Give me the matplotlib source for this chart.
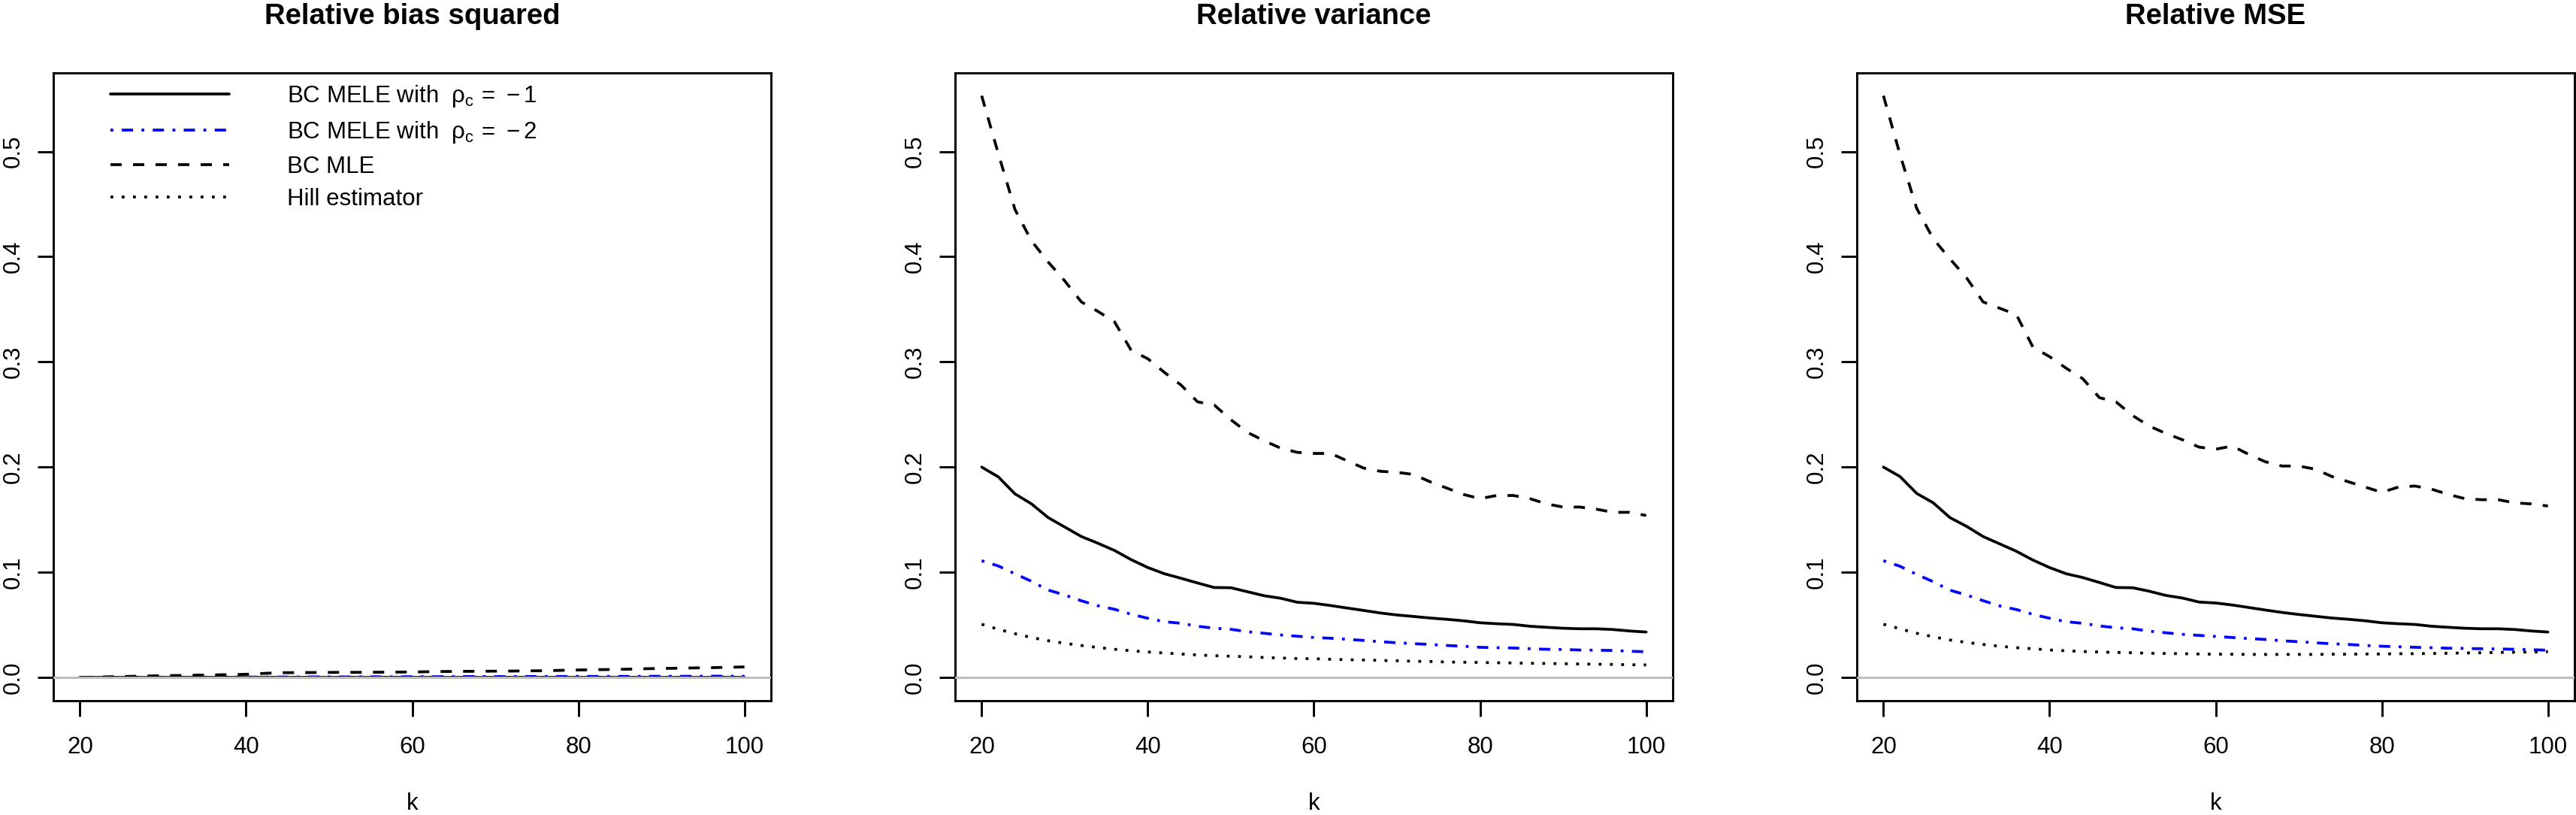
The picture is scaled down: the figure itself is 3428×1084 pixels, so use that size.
import matplotlib
matplotlib.use('Agg')
import matplotlib.pyplot as plt

plt.rcParams['font.family'] = ['Liberation Sans', 'DejaVu Sans']
plt.rcParams['mathtext.fontset'] = 'custom'
plt.rcParams['mathtext.rm'] = 'Liberation Sans'
plt.rcParams['mathtext.it'] = 'Liberation Sans:italic'
plt.rcParams['mathtext.bf'] = 'Liberation Sans:bold'

# ------------------------------------------------------------------------------
# Data
# ------------------------------------------------------------------------------
k = [20, 22, 24, 26, 28, 30, 32, 34, 36, 38, 40, 42, 44, 46, 48, 50, 52, 54, 56, 58, 60,
     62, 64, 66, 68, 70, 72, 74, 76, 78, 80, 82, 84, 86, 88, 90, 92, 94, 96, 98, 100]

titles = ['Relative bias squared', 'Relative variance', 'Relative MSE']
labels = [r'BC MELE with  $\mathrm{\rho_c\,=\,-1}$',
          r'BC MELE with  $\mathrm{\rho_c\,=\,-2}$',
          'BC MLE',
          'Hill estimator']

# Relative bias squared
bias_mele1 = [0.0000, 0.0000, 0.0000, 0.0000, 0.0000, 0.0000, 0.0000, 0.0000, 0.0000, 0.0000, 0.0000,
              0.0000, 0.0000, 0.0000, 0.0000, 0.0000, 0.0000, 0.0000, 0.0000, 0.0000, 0.0000,
              0.0000, 0.0000, 0.0000, 0.0000, 0.0000, 0.0000, 0.0000, 0.0000, 0.0000, 0.0000,
              0.0000, 0.0000, 0.0000, 0.0000, 0.0000, 0.0000, 0.0000, 0.0000, 0.0000, 0.0000]
bias_mele2 = [0.0000, 0.0000, 0.0001, 0.0001, 0.0001, 0.0002, 0.0002, 0.0002, 0.0003, 0.0003, 0.0003,
              0.0004, 0.0004, 0.0004, 0.0005, 0.0005, 0.0005, 0.0006, 0.0006, 0.0006, 0.0007,
              0.0007, 0.0007, 0.0008, 0.0008, 0.0008, 0.0008, 0.0009, 0.0009, 0.0009, 0.0010,
              0.0010, 0.0010, 0.0010, 0.0011, 0.0011, 0.0011, 0.0011, 0.0012, 0.0012, 0.0012]
bias_mle = [0.0000, 0.0003, 0.0007, 0.0010, 0.0014, 0.0017, 0.0019, 0.0022, 0.0024, 0.0027, 0.0030,
            0.0038, 0.0045, 0.0046, 0.0047, 0.0048, 0.0049, 0.0049, 0.0050, 0.0051, 0.0052,
            0.0055, 0.0057, 0.0058, 0.0059, 0.0060, 0.0061, 0.0063, 0.0064, 0.0068, 0.0071,
            0.0074, 0.0076, 0.0079, 0.0083, 0.0086, 0.0088, 0.0091, 0.0093, 0.0097, 0.0100]
bias_hill = [0.0000, 0.0000, 0.0000, 0.0000, 0.0000, 0.0000, 0.0000, 0.0000, 0.0000, 0.0000, 0.0000,
             0.0000, 0.0000, 0.0000, 0.0000, 0.0000, 0.0000, 0.0000, 0.0000, 0.0000, 0.0000,
             0.0000, 0.0000, 0.0000, 0.0000, 0.0000, 0.0000, 0.0000, 0.0000, 0.0000, 0.0000,
             0.0000, 0.0000, 0.0000, 0.0000, 0.0000, 0.0000, 0.0000, 0.0000, 0.0000, 0.0000]

# Relative variance
var_mele1 = [0.200, 0.1907, 0.1746, 0.165, 0.152, 0.143, 0.134, 0.1276, 0.1207, 0.112, 0.1045,
             0.0986, 0.0943, 0.0898, 0.0855, 0.0853, 0.0815, 0.0777, 0.0753, 0.0715, 0.0705,
             0.0684, 0.066, 0.0637, 0.0613, 0.0594, 0.058, 0.0565, 0.0553, 0.0539, 0.052,
             0.0511, 0.0504, 0.0487, 0.0477, 0.0468, 0.0463, 0.0463, 0.0456, 0.0442, 0.0432]
var_mele2 = [0.111, 0.106, 0.0986, 0.0914, 0.0831, 0.0784, 0.0729, 0.0682, 0.0648, 0.0601, 0.0563,
             0.053, 0.0515, 0.0487, 0.0468, 0.0458, 0.0435, 0.042, 0.0404, 0.0392, 0.038,
             0.0373, 0.0363, 0.0352, 0.034, 0.033, 0.0321, 0.0314, 0.0304, 0.0297, 0.0287,
             0.0283, 0.028, 0.0273, 0.0268, 0.0266, 0.0261, 0.0259, 0.0257, 0.0249, 0.0245]
var_mle = [0.553, 0.498, 0.445, 0.415, 0.395, 0.377, 0.357, 0.348, 0.338, 0.311, 0.303,
           0.290, 0.278, 0.262, 0.259, 0.245, 0.233, 0.225, 0.218, 0.214, 0.213,
           0.213, 0.206, 0.199, 0.196, 0.195, 0.193, 0.186, 0.180, 0.174, 0.170,
           0.173, 0.173, 0.170, 0.165, 0.162, 0.162, 0.160, 0.157, 0.157, 0.154]
var_hill = [0.0506, 0.0458, 0.0416, 0.038, 0.0349, 0.0325, 0.0304, 0.0285, 0.0268, 0.0254, 0.0242,
            0.0233, 0.0223, 0.0214, 0.0207, 0.0202, 0.0197, 0.019, 0.0185, 0.018, 0.0178,
            0.0173, 0.0169, 0.0166, 0.0162, 0.0159, 0.0154, 0.0152, 0.0147, 0.0145, 0.0143,
            0.014, 0.0138, 0.0135, 0.0133, 0.0131, 0.0128, 0.0126, 0.0124, 0.0121, 0.0119]

# Relative MSE
mse_mele1 = [0.200, 0.191, 0.175, 0.166, 0.152, 0.1437, 0.134, 0.127, 0.120, 0.1116, 0.1045,
             0.0986, 0.095, 0.0903, 0.0855, 0.0853, 0.082, 0.078, 0.0755, 0.0717, 0.0708,
             0.0689, 0.0665, 0.0641, 0.0618, 0.0599, 0.0582, 0.0565, 0.0553, 0.0539, 0.052,
             0.0511, 0.0504, 0.0487, 0.0477, 0.0468, 0.0463, 0.0463, 0.0456, 0.0442, 0.0432]
mse_mele2 = [0.111, 0.1057, 0.098, 0.091, 0.083, 0.0784, 0.073, 0.068, 0.0646, 0.060, 0.0563,
             0.053, 0.0515, 0.049, 0.0473, 0.0463, 0.044, 0.0425, 0.041, 0.040, 0.039,
             0.038, 0.037, 0.0361, 0.0349, 0.034, 0.033, 0.032, 0.0314, 0.0304, 0.0297,
             0.0292, 0.0287, 0.0283, 0.0278, 0.0276, 0.0273, 0.0271, 0.0268, 0.0264, 0.0259]
mse_mle = [0.553, 0.497, 0.446, 0.417, 0.398, 0.380, 0.357, 0.351, 0.345, 0.314, 0.305,
           0.294, 0.284, 0.266, 0.262, 0.249, 0.239, 0.232, 0.226, 0.219, 0.217,
           0.220, 0.212, 0.205, 0.201, 0.201, 0.198, 0.191, 0.186, 0.181, 0.176,
           0.181, 0.182, 0.179, 0.174, 0.170, 0.169, 0.169, 0.166, 0.165, 0.163]
mse_hill = [0.0506, 0.0463, 0.042, 0.0387, 0.0356, 0.0333, 0.0314, 0.0297, 0.0283, 0.0273, 0.0261,
            0.0254, 0.0247, 0.0242, 0.0238, 0.0235, 0.023, 0.0228, 0.0226, 0.0223, 0.0221,
            0.0221, 0.0219, 0.0219, 0.0219, 0.0219, 0.0219, 0.0221, 0.0221, 0.0223, 0.0223,
            0.0226, 0.0226, 0.0228, 0.023, 0.0233, 0.0235, 0.0238, 0.024, 0.0242, 0.0245]

panels = [
    [bias_mele1, bias_mele2, bias_mle, bias_hill],
    [var_mele1, var_mele2, var_mle, var_hill],
    [mse_mele1, mse_mele2, mse_mle, mse_hill],
]

# ------------------------------------------------------------------------------
# Styles
# ------------------------------------------------------------------------------
W, H = 3428, 1084
lnwidth = 2.7
fsize = 22.5
colors = ['black', 'blue', 'black', 'black']
dashes = [None, (1, 3, 4, 3), (4, 4), (1, 3)]

fig = plt.figure(figsize=(W / 100, H / 100), dpi=100)

lefts = [71, 1271, 2471]
axw, top, bottom = 955, 97, 932

for i in range(3):
    ax = fig.add_axes([lefts[i] / W, (H - bottom) / H, axw / W, (bottom - top) / H])
    lines = []
    for j in range(4):
        ln, = ax.plot(k, panels[i][j], color=colors[j], linewidth=lnwidth,
                      solid_capstyle='round', solid_joinstyle='round')
        if dashes[j] is not None:
            ln.set_dashes(dashes[j])
        lines.append(ln)
    ax.axhline(0, color='#BEBEBE', linewidth=2.2, zorder=3)

    ax.set_xlim(16.8, 103.2)
    ax.set_ylim(-0.0221, 0.5747)
    ax.set_xticks([20, 40, 60, 80, 100])
    ax.set_yticks([0.0, 0.1, 0.2, 0.3, 0.4, 0.5])
    ax.set_yticklabels(['0.0', '0.1', '0.2', '0.3', '0.4', '0.5'], va='center')
    ax.tick_params(axis='both', length=15, width=2.1, labelsize=fsize)
    ax.tick_params(axis='x', pad=19)
    ax.tick_params(axis='y', pad=12.5, labelrotation=90)
    for s in ax.spines.values():
        s.set_linewidth(2.1)

    ax.set_xlabel('k', fontsize=fsize, labelpad=32)
    ax.set_title(titles[i], fontsize=27.5, fontweight='bold', pad=47)

    if i == 0:
        ax.legend(lines, labels, loc='upper left', bbox_to_anchor=(76 / axw, 1 - 14 / (bottom - top)),
                  frameon=False, fontsize=fsize, handlelength=5.06, handletextpad=2.46,
                  labelspacing=0.44, borderpad=0, borderaxespad=0)

fig.savefig('out.png', dpi=100)
